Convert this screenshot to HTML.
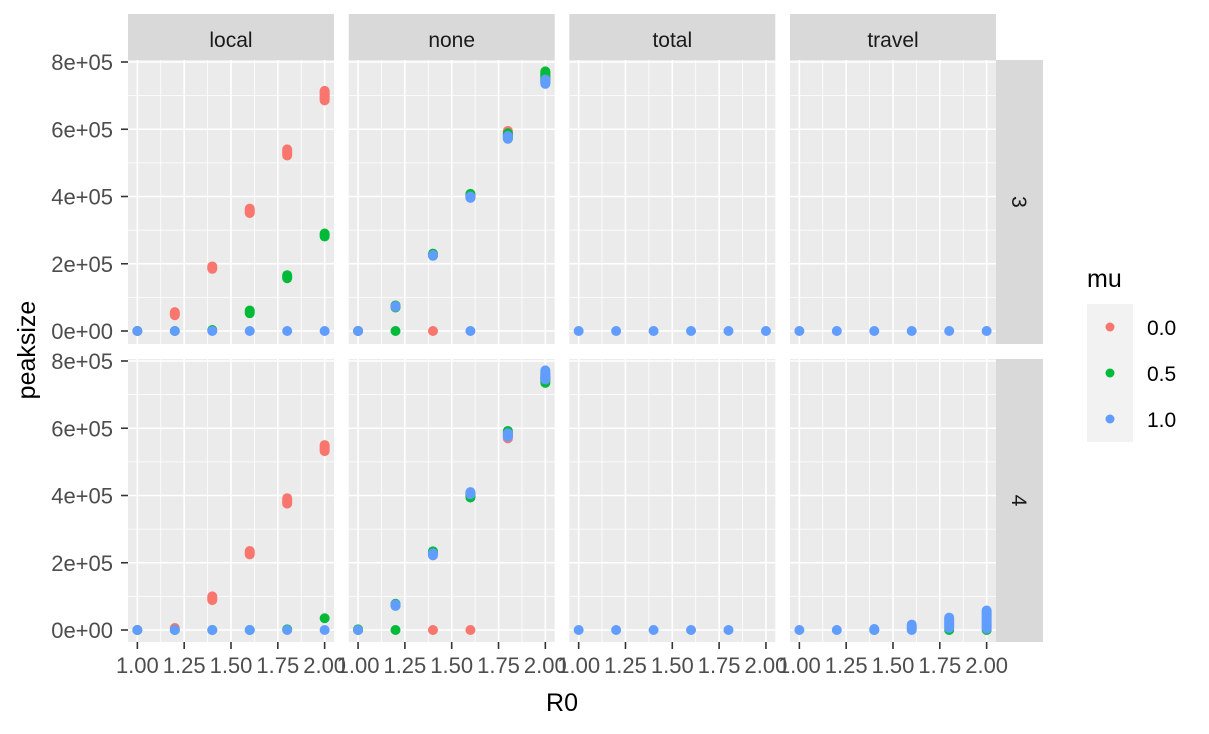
<!DOCTYPE html>
<html><head><meta charset="utf-8"><style>
body{margin:0;background:#fff}
svg text{font-family:"Liberation Sans",Arial,sans-serif}
</style></head><body>
<svg id="chart" width="1209" height="729"></svg>
<script>
const facetCols = ["local","none","total","travel"];
const facetRows = ["3","4"];
const muLevels = ["0.0","0.5","1.0"];
const muColors = ["#F8766D","#00BA38","#619CFF"];
const xTicks = [1.00,1.25,1.50,1.75,2.00];
const xTickLabels = ["1.00","1.25","1.50","1.75","2.00"];
const yTicks = [0,200000,400000,600000,800000];
const yTickLabels = ["0e+00","2e+05","4e+05","6e+05","8e+05"];
// data: [R0, low, high] per point group
const local3_mu0 = [[1.0,0,0],[1.2,47000,56000],[1.4,185000,192000],[1.6,351000,364000],[1.8,522000,540000],[2.0,686000,714000]];
const local3_mu05 = [[1.0,0,0],[1.2,0,0],[1.4,3000,3000],[1.6,53000,61000],[1.8,157000,166000],[2.0,281000,290000]];
const local3_mu1 = [[1.0,0,0],[1.2,0,0],[1.4,0,0],[1.6,0,0],[1.8,0,0],[2.0,0,0]];
const none3_mu0 = [[1.0,0,0],[1.2,72000,72000],[1.4,0,0],[1.4,228000,228000],[1.6,398000,402000],[1.8,580000,595000],[2.0,745000,770000]];
const none3_mu05 = [[1.0,0,0],[1.2,0,0],[1.2,70000,76000],[1.4,224000,230000],[1.6,398000,408000],[1.8,572000,588000],[2.0,738000,772000]];
const none3_mu1 = [[1.0,0,0],[1.2,72000,74000],[1.4,224000,226000],[1.6,0,0],[1.6,396000,400000],[1.8,572000,580000],[2.0,735000,748000]];
const total3_mu1 = [[1.0,0,0],[1.2,0,0],[1.4,0,0],[1.6,0,0],[1.8,0,0],[2.0,0,0]];
const travel3_mu1 = [[1.0,0,0],[1.2,0,0],[1.4,0,0],[1.6,0,0],[1.8,0,0],[2.0,0,0]];
const local4_mu0 = [[1.0,0,0],[1.2,6000,6000],[1.4,89000,100000],[1.6,225000,235000],[1.8,376000,392000],[2.0,532000,550000]];
const local4_mu05 = [[1.0,0,0],[1.2,0,0],[1.4,0,0],[1.6,0,0],[1.8,2000,2000],[2.0,35000,35000]];
const local4_mu1 = [[1.0,0,0],[1.2,0,0],[1.4,0,0],[1.6,0,0],[1.8,0,0],[2.0,0,0]];
const none4_mu0 = [[1.0,0,0],[1.2,74000,74000],[1.4,0,0],[1.4,228000,228000],[1.6,0,0],[1.6,400000,408000],[1.8,570000,578000],[2.0,745000,760000]];
const none4_mu05 = [[1.0,0,2000],[1.2,0,0],[1.2,72000,78000],[1.4,226000,234000],[1.6,394000,402000],[1.8,580000,592000],[2.0,735000,752000]];
const none4_mu1 = [[1.0,0,0],[1.2,72000,76000],[1.4,222000,228000],[1.6,404000,410000],[1.8,575000,585000],[2.0,745000,772000]];
const total4_mu1 = [[1.0,0,0],[1.2,0,0],[1.4,0,0],[1.6,0,0],[1.8,0,0]];
const travel4_mu05 = [[1.4,0,0],[1.8,0,0],[2.0,0,0]];
const travel4_mu1 = [[1.0,0,0],[1.2,0,0],[1.4,0,3000],[1.6,0,16000],[1.8,6000,37000],[2.0,4000,58000]];

const panelData = {
 "local|3":[local3_mu0,local3_mu05,local3_mu1],
 "none|3":[none3_mu0,none3_mu05,none3_mu1],
 "total|3":[[],[],total3_mu1],
 "travel|3":[[],[],travel3_mu1],
 "local|4":[local4_mu0,local4_mu05,local4_mu1],
 "none|4":[none4_mu0,none4_mu05,none4_mu1],
 "total|4":[[],[],total4_mu1],
 "travel|4":[[],travel4_mu05,travel4_mu1]
};

const NS="http://www.w3.org/2000/svg";
const svg=document.getElementById('chart');
function mk(tag,attrs,parent){const e=document.createElementNS(NS,tag);for(const k in attrs)e.setAttribute(k,attrs[k]);(parent||svg).appendChild(e);return e;}
const panelX=[128,348.7,569.3,790], panelW=206;
const panelY=[60,359], panelH=[284,283];
const xMin=0.95,xMax=2.05;
function xs(c,v){return panelX[c]+(v-xMin)/(xMax-xMin)*panelW;}
function zeroY(r){return r===0?331:630;}
const pxPer=269/800000;
function ys(r,v){return zeroY(r)-v*pxPer;}

facetCols.forEach((col,c)=>{
  const st=mk('g',{});
  
  
  mk('rect',{x:panelX[c],y:14,width:panelW,height:46,fill:'#d9d9d9'},st);
  const t=mk('text',{x:panelX[c]+panelW/2,y:47,'text-anchor':'middle','font-size':21,fill:'#1a1a1a'},st);t.textContent=col;
});
facetRows.forEach((row,r)=>{
  const st=mk('g',{});
  
  
  mk('rect',{x:996,y:panelY[r],width:47,height:panelH[r],fill:'#d9d9d9'},st);
  const cy=panelY[r]+panelH[r]/2;
  const t=mk('text',{x:1012,y:cy,'text-anchor':'middle','font-size':21,fill:'#1a1a1a',transform:`rotate(90 1012 ${cy})`},st);t.textContent=row;
});

facetRows.forEach((row,r)=>{
 facetCols.forEach((col,c)=>{
  const g=mk('g',{});
  
  
  mk('rect',{x:panelX[c],y:panelY[r],width:panelW,height:panelH[r],fill:'#ebebeb'},g);
  for(let i=0;i<xTicks.length-1;i++){const x=xs(c,(xTicks[i]+xTicks[i+1])/2);mk('line',{x1:x,x2:x,y1:panelY[r],y2:panelY[r]+panelH[r],stroke:'#fff','stroke-width':0.8},g);}
  for(let i=0;i<yTicks.length-1;i++){const y=ys(r,(yTicks[i]+yTicks[i+1])/2);mk('line',{x1:panelX[c],x2:panelX[c]+panelW,y1:y,y2:y,stroke:'#fff','stroke-width':0.8},g);}
  xTicks.forEach(v=>{const x=xs(c,v);mk('line',{x1:x,x2:x,y1:panelY[r],y2:panelY[r]+panelH[r],stroke:'#fff','stroke-width':1.6},g);});
  yTicks.forEach(v=>{const y=ys(r,v);mk('line',{x1:panelX[c],x2:panelX[c]+panelW,y1:y,y2:y,stroke:'#fff','stroke-width':1.6},g);});
  const series=panelData[col+'|'+row];
  series.forEach((pts,m)=>{
    pts.forEach(p=>{
      const x=xs(c,p[0]),y1=ys(r,p[1]),y2=ys(r,p[2]);
      const e=mk('line',{x1:x,x2:x,y1:y1,y2:y2+0.01,stroke:muColors[m],'stroke-width':10,'stroke-linecap':'round'},g);
      
      
    });
  });
 });
});

facetRows.forEach((row,r)=>{
  const g=mk('g',{});
  
  
  yTicks.forEach((v,i)=>{const y=ys(r,v);
    mk('line',{x1:121,x2:128,y1:y,y2:y,stroke:'#333','stroke-width':1.6},g);
    const t=mk('text',{x:113,y:y+8,'text-anchor':'end','font-size':22,fill:'#4d4d4d'},g);t.textContent=yTickLabels[i];});
});
facetCols.forEach((col,c)=>{
  const g=mk('g',{});
  
  
  xTicks.forEach((v,i)=>{const x=xs(c,v);
    mk('line',{x1:x,x2:x,y1:642,y2:649,stroke:'#333','stroke-width':1.6},g);
    const t=mk('text',{x:x,y:673,'text-anchor':'middle','font-size':22,fill:'#4d4d4d'},g);t.textContent=xTickLabels[i];});
});
let t=mk('text',{x:562,y:711,'text-anchor':'middle','font-size':25,fill:'#000'});t.textContent='R0';

t=mk('text',{x:35,y:350,'text-anchor':'middle','font-size':25,fill:'#000',transform:'rotate(-90 35 350)'});t.textContent='peaksize';


const lg=mk('g',{});


t=mk('text',{x:1087,y:287,'font-size':25,fill:'#000'},lg);t.textContent='mu';
mk('rect',{x:1087,y:304,width:46,height:138,fill:'#f2f2f2'},lg);
muLevels.forEach((lv,i)=>{
  const e=mk('g',{},lg);
  
  
  const cy=327+i*46;
  mk('circle',{cx:1110,cy:cy,r:4.5,fill:muColors[i]},e);
  const tt=mk('text',{x:1147,y:cy+8,'font-size':21,fill:'#000'},e);tt.textContent=lv;
});
</script>
</body></html>
